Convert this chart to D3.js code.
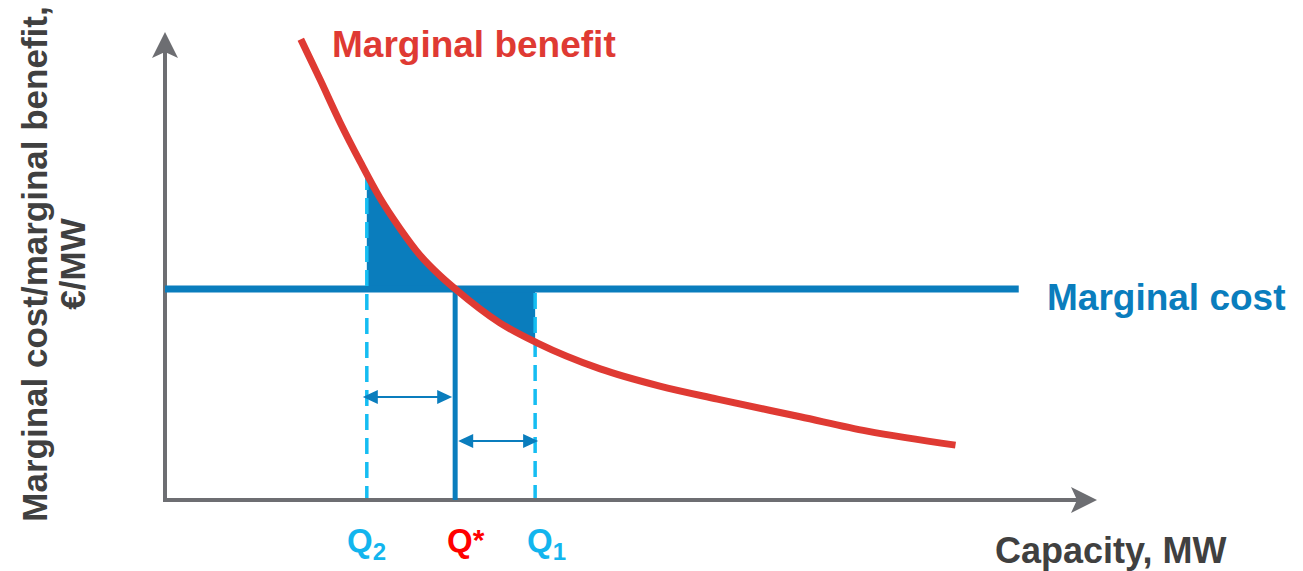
<!DOCTYPE html>
<html>
<head>
<meta charset="utf-8">
<script src="https://cdn.jsdelivr.net/npm/d3@7"></script>
<style>
  body { margin: 0; background: #ffffff; }
  text { font-family: "Liberation Sans", Arial, sans-serif; font-weight: bold; }
</style>
</head>
<body>
<svg id="chart" width="1303" height="571"></svg>
<script>
// Marginal benefit curve (capacity vs €/MW, arbitrary units 0–100)
const capacity        = [14.6, 16.7, 18.8, 21.0, 23.1, 25.3, 27.4, 29.6, 31.2, 36.0, 40.0, 46.8, 53.2, 59.4, 68.3, 75.5, 85.0];
const marginalBenefit = [99.1, 90.3, 81.3, 72.7, 65.0, 58.3, 52.7, 48.2, 45.4, 38.1, 33.8, 28.2, 24.5, 21.7, 17.9, 14.8, 11.8];

// Flat marginal cost and the three capacity levels
const marginalCost = 45.4;
const costExtent   = [0, 91.8];
const qLevels      = { q2: 21.7, qStar: 31.2, q1: 39.8 };

const colors = {
  axis: "#6d6e72",
  benefit: "#df3a33",
  cost: "#0a7dbd",
  dashed: "#15bdf2",
  qLight: "#12b5ee",
  qStar: "#ff0000",
  text: "#404040"
};

const svg = d3.select("#chart");
const x = d3.scaleLinear().domain([0, 100]).range([165, 1095]);
const y = d3.scaleLinear().domain([0, 100]).range([500, 35]);

const pts = capacity.map((c, i) => ({ c, v: marginalBenefit[i] }));
const smooth = d3.curveMonotoneX;
const benefitAt = d3.scaleLinear().domain(capacity).range(marginalBenefit);

// Shaded deadweight areas between benefit curve and cost line, Q2..Q1
svg.append("defs").append("clipPath").attr("id", "gapClip")
  .append("rect")
  .attr("x", x(qLevels.q2)).attr("y", 0)
  .attr("width", x(qLevels.q1) - x(qLevels.q2)).attr("height", y(0));

const area = d3.area()
  .x(d => x(d.c))
  .y0(y(marginalCost))
  .y1(d => y(d.v))
  .curve(smooth);

svg.append("path")
  .datum(pts)
  .attr("d", area)
  .attr("fill", colors.cost)
  .attr("clip-path", "url(#gapClip)");

// Axes (no ticks) with arrow heads
const x0 = x(0), y0 = y(0);
const yTip = y(100) - 3, xTip = x(100) + 2;
svg.append("path")
  .attr("d", `M${x0},${y0} L${x0},${yTip + 20}`)
  .attr("stroke", colors.axis).attr("stroke-width", 4).attr("fill", "none");
svg.append("path")
  .attr("d", `M${x0},${y0} L${xTip - 20},${y0}`)
  .attr("stroke", colors.axis).attr("stroke-width", 4).attr("fill", "none")
  .attr("stroke-linecap", "square");
svg.append("path")
  .attr("d", `M${x0},${yTip} L${x0 - 13},${yTip + 26} L${x0},${yTip + 20} L${x0 + 13},${yTip + 26} Z`)
  .attr("fill", colors.axis);
svg.append("path")
  .attr("d", `M${xTip},${y0} L${xTip - 26},${y0 - 13} L${xTip - 20},${y0} L${xTip - 26},${y0 + 13} Z`)
  .attr("fill", colors.axis);

// Marginal cost line
svg.append("line")
  .attr("x1", x(costExtent[0])).attr("x2", x(costExtent[1]))
  .attr("y1", y(marginalCost)).attr("y2", y(marginalCost))
  .attr("stroke", colors.cost).attr("stroke-width", 7);

// Q* (solid) and Q2 / Q1 (dashed) guides
svg.append("line")
  .attr("x1", x(qLevels.qStar)).attr("x2", x(qLevels.qStar))
  .attr("y1", y(marginalCost)).attr("y2", y0)
  .attr("stroke", colors.cost).attr("stroke-width", 5);

svg.append("line")
  .attr("x1", x(qLevels.q2)).attr("x2", x(qLevels.q2))
  .attr("y1", y(benefitAt(qLevels.q2))).attr("y2", y0 - 2)
  .attr("stroke", colors.dashed).attr("stroke-width", 3.5)
  .attr("stroke-dasharray", "16,8");
svg.append("line")
  .attr("x1", x(qLevels.q1)).attr("x2", x(qLevels.q1))
  .attr("y1", y(marginalCost) + 4).attr("y2", y0 - 2)
  .attr("stroke", colors.dashed).attr("stroke-width", 3.5)
  .attr("stroke-dasharray", "16,8");

// Double-headed arrows showing the deviations from Q*
function doubleArrow(xa, xb, yy) {
  const g = svg.append("g");
  g.append("line")
    .attr("x1", xa + 8).attr("x2", xb - 8).attr("y1", yy).attr("y2", yy)
    .attr("stroke", colors.cost).attr("stroke-width", 2.2);
  g.append("path")
    .attr("d", `M${xa},${yy} L${xa + 15},${yy - 7} L${xa + 15},${yy + 7} Z`)
    .attr("fill", colors.cost);
  g.append("path")
    .attr("d", `M${xb},${yy} L${xb - 15},${yy - 7} L${xb - 15},${yy + 7} Z`)
    .attr("fill", colors.cost);
}
doubleArrow(x(qLevels.q2) - 4, x(qLevels.qStar) - 3, 397);
doubleArrow(x(qLevels.qStar) + 3, x(qLevels.q1) + 3, 441);

// Marginal benefit curve
const line = d3.line()
  .x(d => x(d.c))
  .y(d => y(d.v))
  .curve(smooth);
svg.append("path")
  .datum(pts)
  .attr("d", line)
  .attr("fill", "none")
  .attr("stroke", colors.benefit)
  .attr("stroke-width", 7);

// Labels
svg.append("text").attr("x", 332).attr("y", 57)
  .attr("fill", colors.benefit).attr("font-size", 37)
  .text("Marginal benefit");
svg.append("text").attr("x", 1047).attr("y", 310)
  .attr("fill", colors.cost).attr("font-size", 37)
  .text("Marginal cost");
svg.append("text").attr("x", 995).attr("y", 563)
  .attr("fill", colors.text).attr("font-size", 36)
  .text("Capacity, MW");

const yLabel = svg.append("text")
  .attr("transform", "translate(47,264) rotate(-90)")
  .attr("text-anchor", "middle")
  .attr("fill", colors.text).attr("font-size", 35);
yLabel.append("tspan").attr("x", 0).attr("y", 0).text("Marginal cost/marginal benefit,");
yLabel.append("tspan").attr("x", 0).attr("y", 38).text("€/MW");

function qLabel(xc, main, sub, color, subShift, subSize) {
  const t = svg.append("text").attr("x", xc).attr("y", 552)
    .attr("fill", color).attr("font-size", 33);
  t.append("tspan").text(main);
  t.append("tspan").attr("font-size", subSize).attr("dy", subShift).text(sub);
}
qLabel(347, "Q", "2", colors.qLight, 8, 24);
qLabel(447, "Q", "*", colors.qStar, -2, 30);
qLabel(527, "Q", "1", colors.qLight, 8, 24);
</script>
</body>
</html>
